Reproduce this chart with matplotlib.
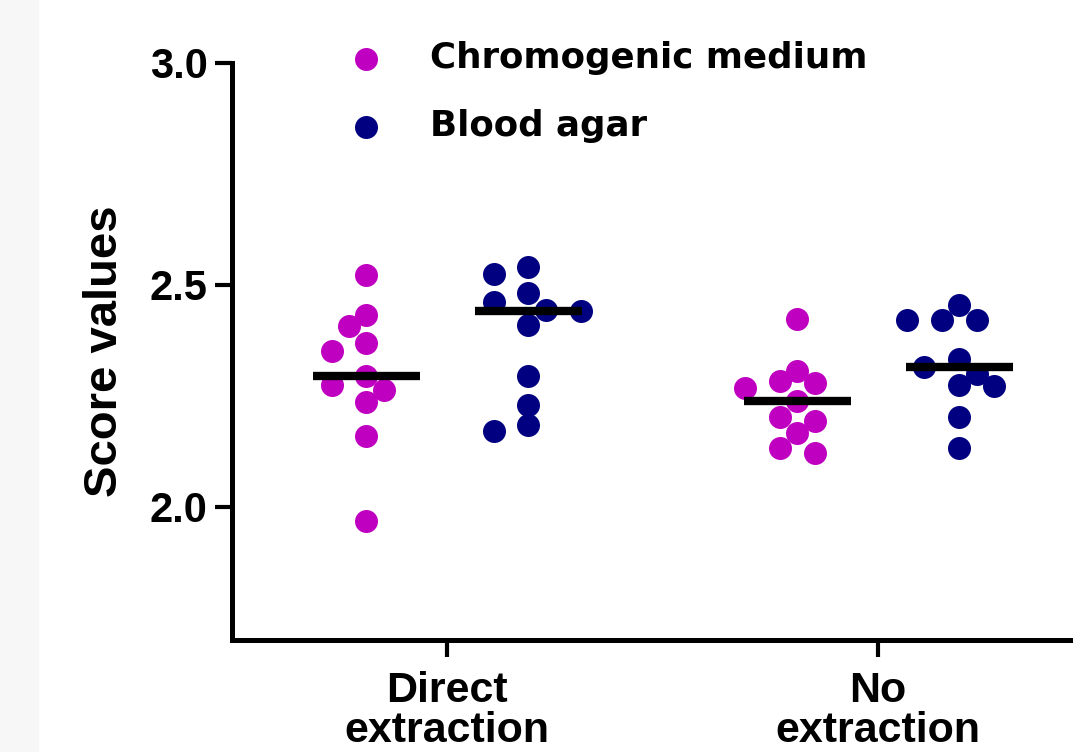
import numpy as np
import matplotlib
matplotlib.use('Agg')
import matplotlib.pyplot as plt
from matplotlib import font_manager
from matplotlib.patches import Rectangle

# values (score values, 11 isolates per column)
groups = ['Direct\nextraction', 'No\nextraction']
series = ['Chromogenic medium', 'Blood agar']
colors = ['#c000c0', '#000080']

chromo_direct = [2.521, 2.431, 2.407, 2.368, 2.350, 2.294, 2.275, 2.262, 2.236, 2.159, 1.968]
blood_direct = [2.539, 2.524, 2.482, 2.461, 2.443, 2.441, 2.409, 2.294, 2.229, 2.184, 2.171]
chromo_noext = [2.422, 2.305, 2.283, 2.279, 2.268, 2.238, 2.202, 2.193, 2.165, 2.132, 2.121]
blood_noext = [2.455, 2.420, 2.420, 2.420, 2.332, 2.315, 2.298, 2.274, 2.271, 2.201, 2.133]

yticks = [2.0, 2.5, 3.0]

# fonts
try:
    font_manager.findfont('Liberation Sans Narrow', fallback_to_default=False)
    narrow = 'Liberation Sans Narrow'
    narrow_scale = 1.0
except ValueError:
    narrow = 'Liberation Sans'
    narrow_scale = 0.85

W, H = 1073, 752
fig = plt.figure(figsize=(W / 100, H / 100), dpi=100)
fig.patches.append(Rectangle((0, 0), 38 / W, 1, transform=fig.transFigure,
                             color='#f7f7f7', zorder=-10))

ax = fig.add_axes([232 / W, (H - 640) / H, 861.5 / W, 577.5 / H])
ax.set_xlim(-0.5, 1.5)
ax.set_ylim(1.7, 3.0)

offset = 0.188
diam = 23.0   # marker diameter in px
step = 17.4


def swarm(vals, center):
    # simple greedy beeswarm in pixel space
    tr = ax.transData
    cx = tr.transform((center, 0))[0]
    placed = []
    xs = np.zeros(len(vals))
    for i in np.argsort(vals)[::-1]:
        py = tr.transform((center, vals[i]))[1]
        k = 0
        done = False
        while not done:
            cands = [0.0] if k == 0 else [-k * step, k * step]
            for off in cands:
                if all(np.hypot(off - qx, py - qy) >= 0.86 * diam for qx, qy in placed):
                    placed.append((off, py))
                    xs[i] = tr.inverted().transform((cx + off, py))[0]
                    done = True
                    break
            k += 1
    return xs


data = [[chromo_direct, blood_direct], [chromo_noext, blood_noext]]
for gi, pair in enumerate(data):
    for si, vals in enumerate(pair):
        center = gi + (-offset if si == 0 else offset)
        xs = swarm(vals, center)
        ax.scatter(xs, vals, s=(diam * 0.72) ** 2, color=colors[si], linewidths=0,
                   zorder=2, label=series[si] if gi == 0 else None)
        ax.hlines(np.median(vals), center - 0.124, center + 0.124, color='black',
                  lw=6, zorder=3)

for side in ['top', 'right']:
    ax.spines[side].set_visible(False)
for side in ['left', 'bottom']:
    ax.spines[side].set_linewidth(3.6)
ax.spines['bottom'].set_capstyle('projecting')

ax.set_yticks(yticks)
ax.set_yticklabels(['%.1f' % t for t in yticks], fontfamily='Liberation Sans',
                   fontweight='bold', fontsize=30)
ax.set_xticks([0, 1])
ax.set_xticklabels(groups, fontfamily=narrow, fontweight='bold',
                   fontsize=36 if narrow_scale == 1.0 else 31,
                   linespacing=1.0)
ax.tick_params(axis='both', width=3, length=12.5, direction='out', color='black')
ax.tick_params(axis='y', pad=5)
ax.tick_params(axis='x', pad=10)

ax.set_ylabel('Score values', fontfamily=narrow, fontweight='bold',
              fontsize=40 * narrow_scale)
ax.yaxis.set_label_coords((127 - 232) / 861.5, 0.5)

leg = ax.legend(loc='upper left', bbox_to_anchor=(348 / W, 1 - 41 / H),
                bbox_transform=fig.transFigure, frameon=False,
                prop={'family': 'DejaVu Sans', 'weight': 'bold', 'size': 25.7},
                handlelength=1.0, handletextpad=1.3, labelspacing=0.95,
                borderpad=0, borderaxespad=0, scatterpoints=1)

fig.savefig('out.png', dpi=100)
